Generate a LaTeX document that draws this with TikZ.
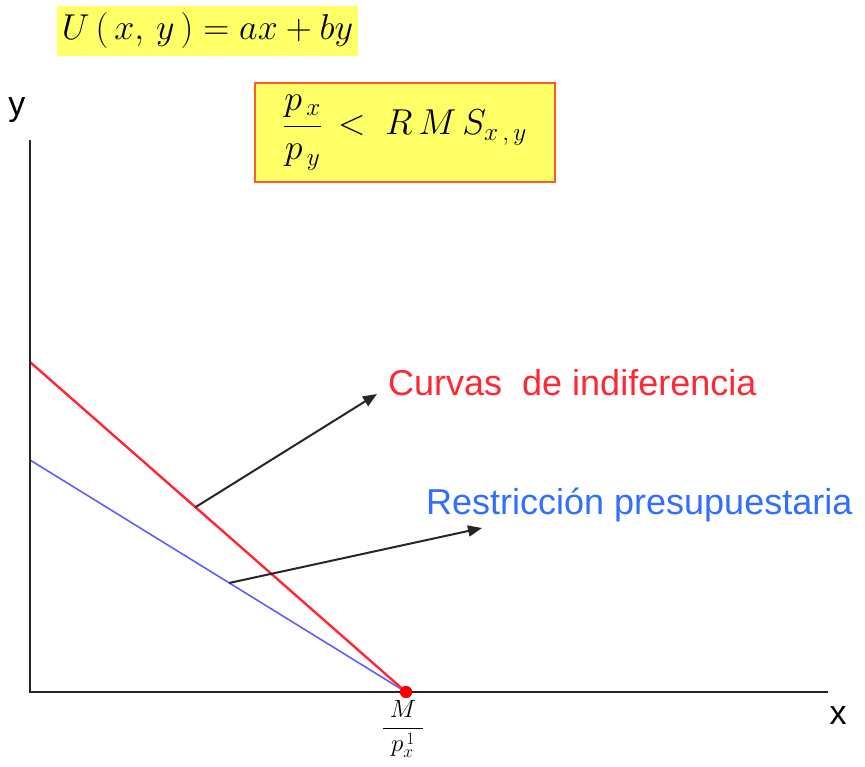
\RequirePackage{fix-cm}
\documentclass[tikz,border=0pt]{standalone}
\usepackage{fontspec}
\setmainfont{Liberation Sans}
\usetikzlibrary{arrows.meta, positioning}
\definecolor{boxyellow}{RGB}{255,255,102}
\definecolor{boxborder}{RGB}{255,90,40}
\definecolor{curvered}{RGB}{255,40,50}
\definecolor{budgetblue}{RGB}{95,95,255}
\definecolor{labelblue}{RGB}{50,110,255}
\tikzset{
    axis/.style = {line width=2pt, black!85},
    pointer/.style = {-{Triangle[length=14pt, width=11pt]}, line width=2pt, black!85},
    eqbox/.style = {fill=boxyellow, inner sep=0pt, font=\fontsize{36}{42}\selectfont},
    curvelabel/.style = {anchor=west, inner sep=0pt, font=\fontsize{36}{42}\selectfont},
    axislabel/.style = {inner sep=0pt, font=\fontsize{34}{40}\selectfont}
}

\begin{document}
\begin{tikzpicture}[x=1pt, y=-1pt]
    \useasboundingbox (0,0) rectangle (865,767);

    % Utility function and condition
    \node[eqbox, minimum width=301pt, minimum height=50pt] (util) at (207.5,31) {$U\left(\,x,\,y\,\right)=ax+by$};
    \node[eqbox, draw=boxborder, line width=2pt, minimum width=300pt, minimum height=99pt] (cond) at (405,132.5)
        {$\displaystyle\frac{p_{\,x}}{p_{\,y}}\,<\;R\,M\,S_{x\,,\,y}$};

    % Axes points
    \coordinate (O) at (30,692);
    \coordinate (ytop) at (30,140);
    \coordinate (xend) at (828,692);
    \coordinate (redtop) at (30,362);
    \coordinate (bluetop) at (30,460);
    \node[circle, fill=red, minimum size=12pt, inner sep=0pt] (M) at (406,692) {};

    % Budget line and indifference curve
    \draw[budgetblue, line width=1.6pt] (bluetop) -- (M.center) coordinate[pos=0.53] (onblue);
    \draw[curvered, line width=2.4pt] (redtop) -- (M.center) coordinate[pos=0.44] (onred);

    \draw[axis] (ytop) -- (O) -- (xend);
    \node[circle, fill=red, minimum size=12pt, inner sep=0pt] at (M) {};

    \node[axislabel] (ylab) at (17,110) {y};
    \node[axislabel] (xlab) at (838,716) {x};
    \node[below=2pt of M, xshift=-3pt, inner sep=0pt, font=\fontsize{25}{30}\selectfont] (Mlab) {$\displaystyle\frac{\;M\;}{p_x^{\,1}}$};

    % Labels
    \node[curvelabel, text=curvered] (curvas) at (388,383) {Curvas\ \ de indiferencia};
    \node[curvelabel, text=labelblue] (restr) at (426,505) {Restricción presupuestaria};
    \coordinate (ctip) at (377,394);
    \coordinate (rtip) at (482,528);
    \draw[pointer] (onred) -- (ctip);
    \draw[pointer] (onblue) -- (rtip);

\end{tikzpicture}
\end{document}
